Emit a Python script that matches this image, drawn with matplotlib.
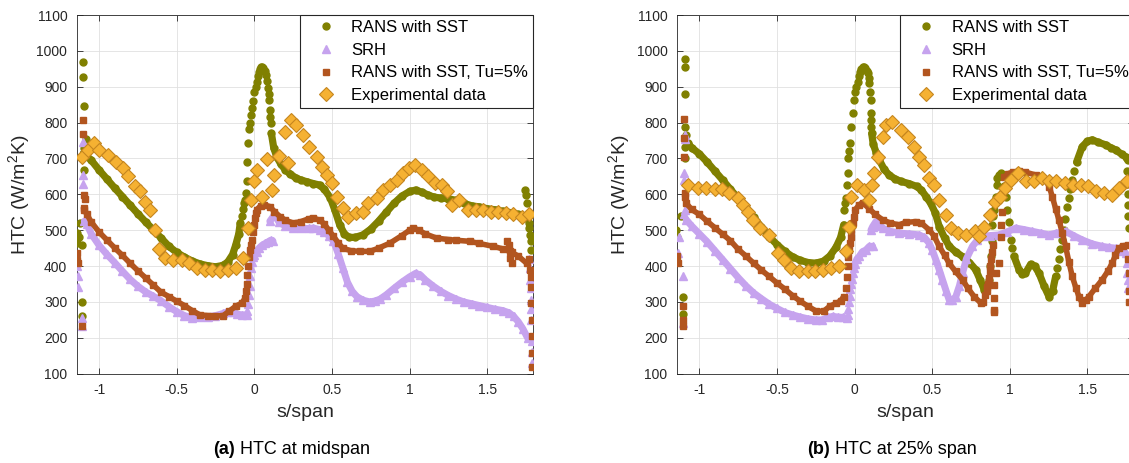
import numpy as np
import matplotlib
matplotlib.use("Agg")
import matplotlib.pyplot as plt
from matplotlib.lines import Line2D

plt.rcParams['font.family'] = ['Liberation Sans', 'DejaVu Sans']
plt.rcParams['mathtext.default'] = 'regular'

nan = np.nan

# ---------------------------------------------------------------- midspan
# RANS with SST: smooth branches (nan separates branches) and isolated samples
mid_sst_s = [-1.10, -1.05, -1.00, -0.95, -0.90, -0.85, -0.80, -0.75, -0.70, -0.65, -0.60, -0.55,
             -0.50, -0.45, -0.40, -0.35, -0.30, -0.25, -0.20, -0.17, -0.14, -0.12, -0.10, -0.09, nan,
             0.11, 0.125, 0.144, 0.17, 0.20, 0.23, 0.27, 0.30, 0.34, 0.38, 0.42, 0.45, 0.49, 0.52,
             0.55, 0.58, 0.61, 0.65, 0.70, 0.75, 0.80, 0.85, 0.90, 0.95, 1.00, 1.04, 1.08, 1.12,
             1.16, 1.20, 1.25, 1.30, 1.35, 1.40, 1.45, 1.50, 1.55, 1.60, 1.65, 1.70, 1.74]
mid_sst_v = [715, 695, 668, 643, 618, 594, 570, 546, 523, 501, 478, 455,
             438, 425, 414, 406, 401, 398, 402, 412, 432, 458, 490, 521, nan,
             770, 730, 705, 685, 668, 657, 645, 640, 635, 630, 626, 615, 590, 555,
             515, 490, 480, 480, 487, 503, 525, 550, 575, 595, 608, 612, 606, 598,
             592, 590, 588, 583, 575, 568, 565, 560, 557, 553, 549, 544, 535]
mid_sst_pts_s = [-0.08, -0.075, -0.068, -0.06, -0.055, -0.049, -0.044, -0.039, -0.033, -0.027,
                 -0.02, -0.013, -0.006, 0.0, 0.008, 0.015, 0.022, 0.03, 0.037, 0.043, 0.05,
                 0.058, 0.066, 0.073, 0.08, 0.086, 0.092, 0.097, 0.10, 0.103, 0.106,
                 -1.101, -1.101, -1.098, -1.085, -1.095, -1.095, -1.12, -1.13, -1.14, -1.144,
                 -1.11, -1.112, -1.112,
                 1.743, 1.748, 1.755, 1.762, 1.768, 1.772, 1.776, 1.78, 1.783]
mid_sst_pts_v = [540, 560, 575, 585, 605, 636, 690, 742, 781, 800,
                 820, 840, 860, 886, 900, 914, 930, 942, 950, 955, 956,
                 952, 945, 933, 915, 896, 880, 863, 835, 815, 798,
                 970, 928, 846, 754, 730, 668, 520, 480, 464, 492,
                 459, 301, 260,
                 612, 598, 575, 545, 520, 505, 487, 470, 445]

# SRH
mid_srh_s = [-1.095, -1.08, -1.05, -1.00, -0.95, -0.90, -0.85, -0.80, -0.75, -0.70, -0.65, -0.60,
             -0.55, -0.50, -0.45, -0.40, -0.35, -0.30, -0.25, -0.20, -0.17, -0.14, -0.11, -0.08,
             -0.05, nan,
             0.0, 0.015, 0.03, 0.05, 0.07, 0.09, 0.105, 0.12, nan,
             0.10, 0.13, 0.16, 0.20, 0.25, 0.30, 0.35, 0.38, 0.42, 0.45, 0.48, 0.51, 0.54, 0.57,
             0.60, 0.63, 0.66, 0.70, 0.745, 0.78, 0.81, 0.85, 0.90, 0.95, 1.00, 1.04, 1.07, 1.10,
             1.15, 1.20, 1.25, 1.30, 1.35, 1.40, 1.45, 1.50, 1.55, 1.60, 1.64, 1.67, 1.70, 1.73,
             1.76]
mid_srh_v = [525, 518, 490, 458, 433, 410, 386, 363, 344, 328, 316, 303,
             287, 273, 262, 256, 257, 259, 262, 268, 273, 272, 266, 264,
             264, nan,
             432, 440, 450, 458, 463, 468, 472, 470, nan,
             525, 543, 522, 512, 506, 505, 505, 506, 502, 495, 485, 470, 435, 395,
             355, 330, 315, 305, 300, 303, 308, 320, 338, 355, 370, 380, 375, 362,
             345, 330, 318, 308, 300, 295, 290, 285, 280, 276, 270, 260, 245, 225,
             200]
mid_srh_pts_s = [-0.045, -0.04, -0.035, -0.03, -0.026, -0.02, -0.013, -0.006,
                 -1.101, -1.101, -1.105, -1.133, -1.136, -1.112, -1.112, -1.14,
                 1.772, 1.775, 1.778, 1.78, 1.782, 1.784, 1.785, 1.786, 1.787, 1.788]
mid_srh_pts_v = [275, 294, 320, 345, 371, 395, 412, 425,
                 747, 654, 630, 343, 371, 232, 255, 400,
                 420, 395, 362, 340, 306, 280, 250, 190, 160, 131]

# RANS with SST, Tu=5%
mid_tu_s = [-1.10, -1.08, -1.05, -1.00, -0.95, -0.90, -0.85, -0.80, -0.75, -0.70, -0.65, -0.60,
            -0.55, -0.50, -0.45, -0.40, -0.35, -0.30, -0.25, -0.20, -0.16, -0.12, -0.08, -0.06, nan,
            0.015, 0.04, 0.06, 0.10, 0.13, 0.165, 0.20, 0.25, 0.30, 0.35, 0.38, 0.42, 0.45, 0.48,
            0.51, 0.54, 0.57, 0.62, 0.68, 0.745, 0.80, 0.874, 0.95, 1.00, 1.024, 1.06, 1.10,
            1.174, 1.25, 1.30, 1.389, 1.45, 1.539, 1.60, 1.646, 1.70, 1.754]
mid_tu_v = [562, 545, 523, 495, 473, 451, 430, 408, 387, 367, 347, 327,
            315, 302, 290, 276, 264, 262, 261, 262, 275, 288, 297, 310, nan,
            557, 568, 571, 566, 552, 538, 528, 520, 524, 532, 534, 528, 518, 500,
            483, 465, 450, 443, 441, 441, 450, 464, 485, 500, 506, 500, 490,
            478, 474, 472, 469, 463, 455, 448, 441, 428, 408]
mid_tu_pts_s = [-0.055, -0.05, -0.046, -0.042, -0.037, -0.03, -0.024, -0.017, -0.01, -0.004,
                0.003, 0.009,
                -1.101, -1.101, -1.097, -1.093, -1.10, -1.145, -1.142, -1.138, -1.112,
                1.63, 1.64, 1.645, 1.657, 1.66,
                1.772, 1.776, 1.78, 1.782, 1.784, 1.786, 1.788, 1.79, 1.79]
mid_tu_pts_v = [330, 350, 375, 400, 425, 445, 460, 473, 495, 515,
                535, 548,
                808, 767, 599, 588, 555, 436, 418, 408, 232,
                469, 458, 422, 408, 440,
                420, 390, 370, 343, 297, 250, 204, 158, 120]

# Experimental data
mid_exp_s = [-1.112, -1.068, -1.03, -0.998, -0.944, -0.891, -0.844, -0.811, -0.768, -0.736,
             -0.704, -0.672, -0.639, -0.612, -0.575, -0.522, -0.468, -0.419, -0.367, -0.317,
             -0.27, -0.221, -0.167, -0.118, -0.071, -0.039, -0.023, -0.002, 0.019, 0.048,
             0.08, 0.112, 0.127, 0.161, 0.198, 0.219, 0.234, 0.269, 0.316, 0.354,
             0.402, 0.434, 0.47, 0.498, 0.534, 0.573, 0.605, 0.655, 0.702, 0.734,
             0.788, 0.831, 0.874, 0.917, 0.959, 0.998, 1.035, 1.078, 1.12, 1.164,
             1.207, 1.239, 1.271, 1.32, 1.378, 1.428, 1.475, 1.522, 1.571, 1.621,
             1.668, 1.722, 1.771]
mid_exp_v = [705, 724, 743, 724, 710, 691, 673, 650, 622, 608,
             580, 557, 501, 447, 422, 418, 418, 408, 394, 390,
             390, 385, 390, 394, 422, 506, 585, 636, 668, 594,
             698, 613, 654, 707, 775, 687, 808, 794, 766, 733,
             705, 677, 654, 631, 594, 562, 538, 548, 552, 575,
             589, 613, 626, 640, 659, 673, 682, 668, 650, 631,
             626, 608, 571, 585, 557, 557, 557, 552, 552, 548,
             545, 538, 545]

# ---------------------------------------------------------------- 25% span
q_sst_s = [-1.074, -1.05, -1.00, -0.95, -0.90, -0.85, -0.80, -0.75, -0.70, -0.65, -0.60, -0.55,
           -0.50, -0.45, -0.40, -0.35, -0.30, -0.25, -0.20, -0.16, -0.12, -0.09, -0.07, nan,
           0.11, 0.12, 0.14, 0.16, 0.19, 0.22, 0.26, 0.30, 0.35, 0.40, 0.43, 0.46, 0.49, 0.52,
           0.545, 0.58, 0.61, 0.65, 0.70, 0.74, 0.78, 0.81, 0.835, nan,
           1.027, 1.059, 1.08, 1.10, 1.134, 1.16, 1.188, 1.22, 1.252, 1.275, 1.295, nan,
           1.43, 1.466, 1.50, 1.531, 1.57, 1.617, 1.65, 1.681, 1.72, 1.745, 1.76]
q_sst_v = [743, 730, 713, 690, 665, 640, 614, 589, 563, 536, 508, 482,
           460, 441, 426, 416, 410, 408, 414, 428, 452, 480, 515, nan,
           770, 740, 715, 695, 670, 655, 643, 636, 630, 622, 612, 594, 575, 548,
           510, 478, 455, 440, 425, 410, 390, 360, 334, nan,
           427, 390, 378, 380, 405, 400, 380, 345, 315, 330, 371, nan,
           690, 733, 748, 752, 745, 738, 730, 724, 712, 705, 695]
q_sst_pts_s = [-0.066, -0.061, -0.056, -0.051, -0.045, -0.04, -0.035, -0.03, -0.023, -0.013,
               -0.006, 0.0, 0.01, 0.019, 0.027, 0.035, 0.043, 0.051, 0.06, 0.069,
               0.077, 0.084, 0.09, 0.095, 0.1, 0.103, 0.105, 0.106, 0.108,
               0.845, 0.855, 0.866, 0.872, 0.877, 0.882, 0.887, 0.893, 0.898, 0.904,
               0.909, 0.915, 0.92, 0.93, 0.94, 0.95, 0.963, 0.973, 0.984, 0.995, 1.006, 1.016,
               1.305, 1.315, 1.325, 1.338, 1.348, 1.358, 1.37, 1.38, 1.39, 1.402, 1.415,
               -1.095, -1.095, -1.095, -1.09, -1.085, -1.09, -1.09, -1.149, -1.145, -1.106,
               -1.106, -1.12,
               1.755, 1.757, 1.759, 1.761, 1.763, 1.765]
q_sst_pts_v = [557, 575, 591, 626, 659, 700, 720, 743, 789, 826,
               863, 886, 900, 914, 930, 942, 950, 956, 955, 952,
               945, 938, 925, 910, 885, 863, 826, 808, 789,
               340, 345, 362, 400, 427, 470, 515, 540, 557, 575,
               594, 626, 645, 654, 660, 650, 622, 594, 557, 524, 473, 450,
               395, 420, 447, 473, 500, 530, 566, 590, 615, 640, 665,
               977, 955, 880, 789, 765, 733, 700, 501, 480, 315,
               267, 540,
               665, 630, 600, 570, 540, 505]

q_srh_s = [-1.084, -1.05, -1.00, -0.95, -0.90, -0.85, -0.80, -0.75, -0.70, -0.65, -0.60, -0.55,
           -0.50, -0.45, -0.40, -0.35, -0.30, -0.25, -0.21, -0.17, -0.14, -0.11, -0.077, -0.05, nan,
           0.0, 0.015, 0.03, 0.05, 0.073, 0.095, 0.116, nan,
           0.105, 0.116, 0.137, 0.16, 0.18, 0.22, 0.287, 0.35, 0.416, 0.45, 0.48, 0.50, 0.523,
           0.545, 0.566, 0.59, 0.609, 0.63, 0.652, 0.675, 0.695, 0.72, 0.759, 0.79, 0.823, 0.87,
           0.93, 0.98, 1.038, 1.09, 1.145, 1.20, 1.252, 1.30, 1.359, 1.41, 1.466, 1.53, 1.595,
           1.64, 1.681, 1.72, 1.745]
q_srh_v = [529, 512, 490, 468, 443, 418, 393, 368, 345, 325, 309, 294,
           282, 271, 264, 258, 253, 250, 250, 257, 260, 258, 257, 255, nan,
           405, 420, 427, 440, 445, 455, 455, nan,
           500, 510, 524, 512, 506, 498, 492, 490, 487, 480, 464, 445, 418,
           390, 362, 330, 306, 305, 315, 345, 380, 420, 455, 472, 483, 485,
           487, 495, 506, 502, 497, 492, 487, 492, 497, 485, 473, 462, 455,
           452, 450, 442, 436]
q_srh_pts_s = [-0.045, -0.04, -0.036, -0.032, -0.028, -0.023, -0.018, -0.013, -0.006,
               -1.095, -1.095, -1.1, -1.1, -1.095, -1.1, -1.106, -1.106, -1.14, -1.13,
               1.752, 1.756, 1.76, 1.764]
q_srh_pts_v = [265, 280, 300, 318, 335, 350, 365, 380, 395,
               766, 755, 659, 640, 557, 545, 371, 241, 436, 480,
               410, 380, 360, 340]

q_tu_s = [-1.084, -1.05, -1.00, -0.95, -0.90, -0.85, -0.80, -0.75, -0.70, -0.65, -0.60, -0.55,
          -0.50, -0.45, -0.40, -0.35, -0.30, -0.25, -0.20, -0.16, -0.12, -0.09, -0.07, nan,
          0.0, 0.03, 0.051, 0.095, 0.13, 0.18, 0.23, 0.287, 0.33, 0.395, 0.43, 0.48, 0.51, 0.545,
          0.58, 0.609, 0.65, 0.695, 0.73, 0.77, 0.813, nan,
          0.965, 0.99, 1.02, 1.058, 1.10, 1.166, 1.20, 1.231, 1.255, 1.273, 1.295, 1.316, 1.338,
          1.359, 1.38, 1.402, 1.425, 1.445, 1.466, 1.49, 1.509, 1.55, 1.595, 1.63, 1.659, 1.68,
          1.702, 1.73, 1.76]
q_tu_v = [575, 558, 544, 525, 507, 489, 471, 447, 428, 408, 389, 371,
          353, 336, 318, 302, 288, 275, 274, 288, 296, 303, 315, nan,
          555, 571, 577, 560, 545, 529, 520, 515, 522, 524, 520, 501, 485, 455,
          430, 408, 385, 362, 338, 315, 297, nan,
          648, 658, 662, 664, 662, 654, 648, 640, 620, 594, 560, 529, 492,
          455, 412, 371, 340, 315, 297, 305, 315, 338, 362, 385, 408, 430,
          450, 457, 458]
q_tu_pts_s = [-0.055, -0.05, -0.045, -0.04, -0.035, -0.03, -0.026, -0.02, -0.013, -0.006,
              0.825, 0.84, 0.85, 0.855, 0.86, 0.866, 0.87, 0.875, 0.88, 0.885, 0.893, 0.898,
              0.9, 0.895, 0.9, 0.91, 0.93, 0.94, 0.945, 0.952, 0.958,
              -1.1, -1.1, -1.1, -1.095, -1.09, -1.145, -1.14, -1.105, -1.106, -1.106,
              1.763, 1.765, 1.767, 1.768]
q_tu_pts_v = [340, 370, 399, 425, 445, 465, 480, 501, 520, 538,
              300, 320, 330, 343, 350, 367, 385, 400, 420, 440, 460, 348,
              311, 278, 271, 380, 408, 480, 515, 552, 610,
              810, 757, 705, 603, 594, 427, 408, 288, 250, 232,
              420, 380, 330, 300]

q_exp_s = [-1.074, -1.01, -0.956, -0.902, -0.853, -0.806, -0.752, -0.72, -0.688, -0.656,
           -0.608, -0.549, -0.495, -0.452, -0.409, -0.356, -0.302, -0.253, -0.206, -0.152,
           -0.103, -0.055, -0.039, -0.023, 0.013, 0.062, 0.095, 0.112, 0.127, 0.148,
           0.18, 0.202, 0.244, 0.298, 0.347, 0.384, 0.416, 0.448, 0.48, 0.512,
           0.545, 0.588, 0.62, 0.669, 0.716, 0.776, 0.802, 0.834, 0.871, 0.905,
           0.935, 0.969, 1.006, 1.055, 1.106, 1.156, 1.205, 1.252, 1.299, 1.355,
           1.406, 1.456, 1.505, 1.556, 1.606, 1.655, 1.702, 1.756]
q_exp_v = [626, 617, 617, 615, 615, 605, 589, 571, 552, 529,
           506, 487, 436, 418, 394, 385, 385, 385, 390, 394,
           399, 441, 510, 594, 626, 613, 585, 626, 659, 705,
           761, 794, 803, 780, 761, 733, 705, 682, 645, 626,
           585, 543, 506, 492, 487, 497, 483, 510, 543, 580,
           594, 617, 640, 659, 636, 636, 645, 636, 636, 631,
           626, 626, 622, 608, 603, 599, 617, 636]

labels = ['RANS with SST', 'SRH', 'RANS with SST, Tu=5%', 'Experimental data']
yticks = [100, 200, 300, 400, 500, 600, 700, 800, 900, 1000, 1100]
xticks = [-1, -0.5, 0, 0.5, 1, 1.5]
xtick_labels = ['-1', '-0.5', '0', '0.5', '1', '1.5']

OLIVE = '#808000'
LILAC = '#C6A3EE'
RUST = '#B2551F'
AMBER = '#F5B132'
AMBER_EDGE = '#C5861F'
INK = '#262626'

series_style = {
    'sst': dict(color=OLIVE, marker='o', ms=5.0, lw=5.2),
    'srh': dict(color=LILAC, marker='^', ms=5.5, lw=5.0),
    'tu': dict(color=RUST, marker='s', ms=3.8, lw=4.0),
}


def draw_series(ax, s, v, ps, pv, style):
    c = style['color']
    ax.plot(s, v, '-', color=c, lw=style['lw'], solid_capstyle='round',
            solid_joinstyle='round', zorder=3)
    ax.plot(s, v, ls='none', marker=style['marker'], ms=style['ms'], color=c,
            mec=c, zorder=3)
    ax.plot(ps, pv, ls='none', marker=style['marker'], ms=style['ms'], color=c,
            mec=c, zorder=3)


def style_axes(ax):
    ax.set_xlim(-1.142, 1.797)
    ax.set_ylim(100, 1100)
    ax.set_yticks(yticks)
    ax.set_xticks(xticks)
    ax.set_xticklabels(xtick_labels)
    ax.tick_params(direction='in', length=4, width=0.6, top=True, right=True,
                   labelsize=10, colors=INK, pad=7)
    for sp in ax.spines.values():
        sp.set_color(INK)
        sp.set_linewidth(0.6)
    ax.grid(True, color='#e0e0e0', lw=0.6)
    ax.set_axisbelow(True)
    ax.set_xlabel('s/span', fontsize=14, color=INK, labelpad=5)
    ax.set_ylabel('HTC (W/m$^2$K)', fontsize=14, color=INK)
    ax.yaxis.set_label_coords(-45 / 456.3, 0.5)

    handles = [
        Line2D([], [], ls='none', marker='o', ms=5, color=OLIVE),
        Line2D([], [], ls='none', marker='^', ms=5.5, color=LILAC),
        Line2D([], [], ls='none', marker='s', ms=3.8, color=RUST),
        Line2D([], [], ls='none', marker='D', ms=7.5, mfc=AMBER, mec=AMBER_EDGE, mew=0.8),
    ]
    leg = ax.legend(handles, labels, loc='upper right', borderaxespad=0, fancybox=False,
                    edgecolor=INK, framealpha=1, fontsize=12, labelspacing=0.46,
                    handlelength=2.5, handletextpad=0.3, borderpad=0.3)
    leg.get_frame().set_linewidth(0.8)
    leg.set_zorder(10)


fig = plt.figure(figsize=(11.29, 4.63), dpi=100)
W, H = 1129, 463
ax_a = fig.add_axes([77 / W, 89.3 / H, 456.3 / W, 358.7 / H])
ax_b = fig.add_axes([677.3 / W, 89.3 / H, 456.3 / W, 358.7 / H])

draw_series(ax_a, mid_sst_s, mid_sst_v, mid_sst_pts_s, mid_sst_pts_v, series_style['sst'])
draw_series(ax_a, mid_srh_s, mid_srh_v, mid_srh_pts_s, mid_srh_pts_v, series_style['srh'])
draw_series(ax_a, mid_tu_s, mid_tu_v, mid_tu_pts_s, mid_tu_pts_v, series_style['tu'])
ax_a.plot(mid_exp_s, mid_exp_v, ls='none', marker='D', ms=7.5, mfc=AMBER, mec=AMBER_EDGE,
          mew=0.8, zorder=4)

draw_series(ax_b, q_sst_s, q_sst_v, q_sst_pts_s, q_sst_pts_v, series_style['sst'])
draw_series(ax_b, q_srh_s, q_srh_v, q_srh_pts_s, q_srh_pts_v, series_style['srh'])
draw_series(ax_b, q_tu_s, q_tu_v, q_tu_pts_s, q_tu_pts_v, series_style['tu'])
ax_b.plot(q_exp_s, q_exp_v, ls='none', marker='D', ms=7.5, mfc=AMBER, mec=AMBER_EDGE,
          mew=0.8, zorder=4)

for ax in (ax_a, ax_b):
    style_axes(ax)

cap_y = (H - 450) / H
fig.text(235 / W, cap_y, '(a)', fontsize=13, weight='bold', ha='right', va='center')
fig.text(235 / W, cap_y, ' HTC at midspan', fontsize=13, ha='left', va='center')
fig.text(830 / W, cap_y, '(b)', fontsize=13, weight='bold', ha='right', va='center')
fig.text(830 / W, cap_y, ' HTC at 25% span', fontsize=13, ha='left', va='center')

fig.savefig('out.png', dpi=100)
